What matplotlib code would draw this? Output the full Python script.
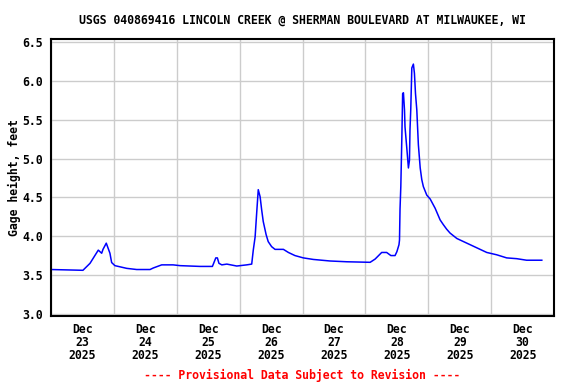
import matplotlib
matplotlib.use('Agg')
import matplotlib.pyplot as plt
import matplotlib.dates as mdates
import numpy as np
from datetime import datetime, timedelta

# hours after 2025-12-23 00:00, gage height in feet
hours = [0, 12.2, 14.9, 18.05, 19.35, 19.85, 21.1, 22.5, 23.15, 24.4, 28.9, 32.7,
         37.8, 39.05, 42.25, 46.6, 49.25, 56.9, 61.6, 62.9, 63.5, 64.1, 65.2, 67.1,
         70.9, 74.7, 76.6, 77.2, 77.9, 78.5, 79.1, 79.8, 80.4, 81.0, 82.1, 82.9,
         84.2, 85.5, 88.7, 90.6, 93.1, 96.3, 100.1, 106.5, 112.9, 121.8, 123.7,
         126.2, 128.1, 129.7, 131.3, 132.0, 132.8, 133.0, 133.2, 133.5, 133.9,
         134.2, 134.5, 134.9, 135.1, 135.8, 136.4, 136.8, 137.0, 137.3, 137.7,
         138.3, 138.7, 139.1, 139.6, 140.2, 140.9, 141.5, 142.1, 143.4, 144.7,
         146.6, 148.5, 149.7, 151.0, 152.3, 154.9, 158.7, 162.5, 166.3, 170.1,
         173.9, 177.7, 181.5, 187.3]
gage = [3.57, 3.56, 3.65, 3.82, 3.78, 3.83, 3.91, 3.78, 3.66, 3.62, 3.585, 3.57,
        3.57, 3.59, 3.63, 3.63, 3.62, 3.61, 3.61, 3.72, 3.72, 3.65, 3.63, 3.64,
        3.615, 3.63, 3.64, 3.82, 3.99, 4.30, 4.60, 4.51, 4.34, 4.19, 4.02, 3.93,
        3.865, 3.83, 3.83, 3.79, 3.75, 3.72, 3.70, 3.68, 3.67, 3.663, 3.705,
        3.79, 3.79, 3.75, 3.75, 3.80, 3.89, 3.95, 4.35, 4.64, 5.28,
        5.84, 5.85, 5.63, 5.41, 5.13, 4.88, 4.98, 5.37, 5.64, 6.17,
        6.22, 6.10, 5.84, 5.63, 5.18, 4.88, 4.73, 4.64, 4.53, 4.48,
        4.36, 4.21, 4.15, 4.09, 4.04, 3.97, 3.91, 3.85, 3.79, 3.76,
        3.72, 3.71, 3.69, 3.69]

start = datetime(2025, 12, 23)
times = [start + timedelta(hours=h) for h in hours]

font = {'family': 'DejaVu Sans Mono', 'weight': 'bold', 'size': 8.3}

fig = plt.figure(figsize=(5.76, 3.84), dpi=100)
ax = fig.add_axes([0.0885, 0.177, 0.8735, 0.7207])

ax.plot(times, gage, color='#0000ff', lw=1.1)

ax.set_xlim(start, start + timedelta(days=8))
ax.set_ylim(2.97, 6.54)

ax.xaxis.set_major_locator(mdates.DayLocator())
ax.xaxis.set_major_formatter(plt.NullFormatter())
ax.xaxis.set_minor_locator(mdates.HourLocator(byhour=12))
ax.xaxis.set_minor_formatter(mdates.DateFormatter('%b\n%d\n%Y'))
ax.set_yticks(np.arange(3.0, 6.51, 0.5))
ax.set_yticklabels(['%.1f' % v for v in np.arange(3.0, 6.51, 0.5)], **font)
for lab in ax.xaxis.get_minorticklabels():
    lab.set_fontproperties(matplotlib.font_manager.FontProperties(**font))
    lab.set_linespacing(1.0)

ax.tick_params(axis='both', which='both', length=0)
ax.tick_params(axis='y', pad=6)
ax.tick_params(axis='x', which='minor', pad=5)
ax.grid(True, which='major', color='#cccccc', lw=1)
for s in ax.spines.values():
    s.set_linewidth(1.5)

ax.set_ylabel('Gage height, feet', labelpad=1, **font)
ax.set_title('USGS 040869416 LINCOLN CREEK @ SHERMAN BOULEVARD AT MILWAUKEE, WI',
             pad=11, **font)
fig.text(0.525, 0.023, '---- Provisional Data Subject to Revision ----',
         color='#ff0000', ha='center', va='center', **font)

plt.savefig('out.png', dpi=100)
